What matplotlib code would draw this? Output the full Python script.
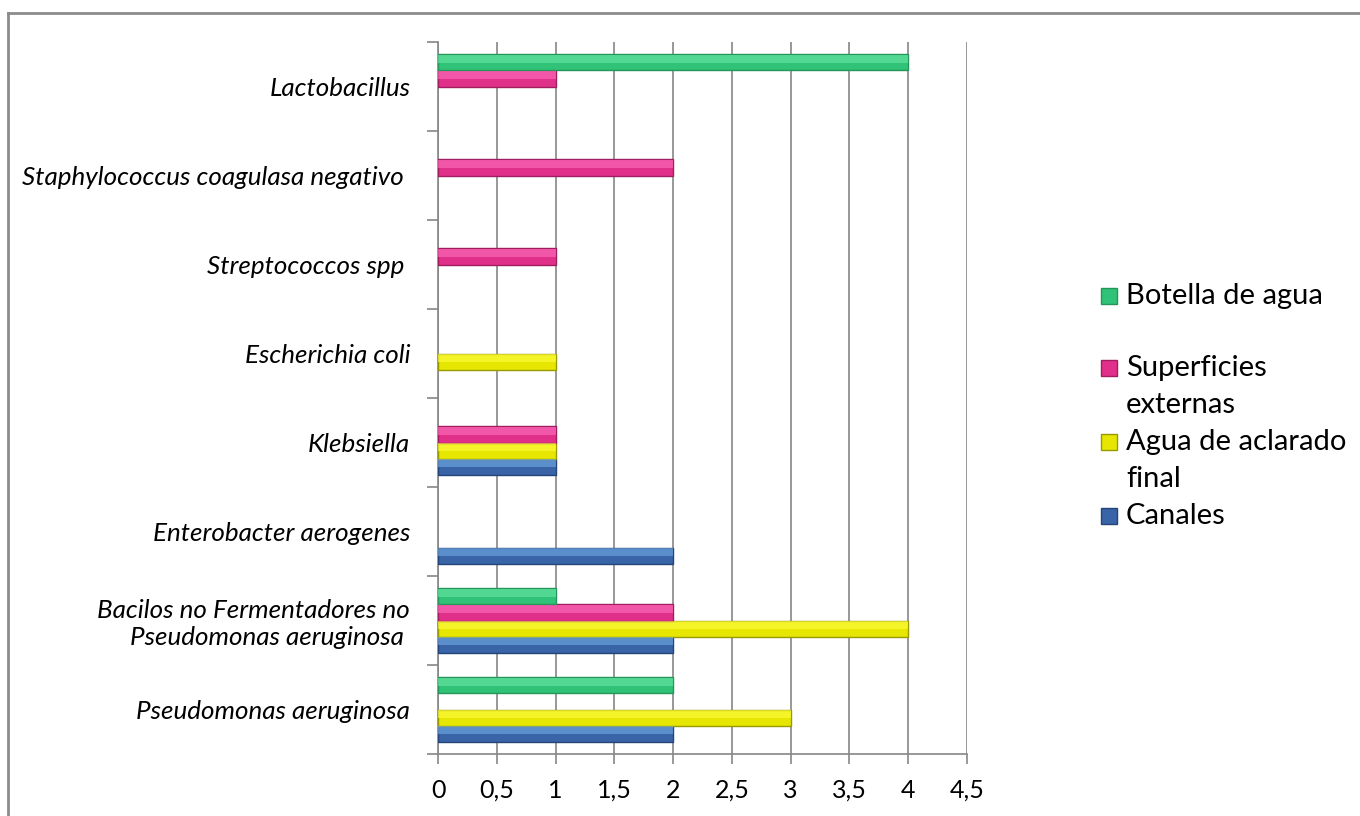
import matplotlib.pyplot as plt
import numpy as np
from matplotlib.patches import Rectangle
from matplotlib.lines import Line2D

plt.rcParams['font.family'] = ['Lato', 'DejaVu Sans']

# categorias (de abajo hacia arriba)
categorias = ['Pseudomonas aeruginosa',
              'Bacilos no Fermentadores no\nPseudomonas aeruginosa ',
              'Enterobacter aerogenes',
              'Klebsiella',
              'Escherichia coli',
              'Streptococcos spp ',
              'Staphylococcus coagulasa negativo ',
              'Lactobacillus']

series = ['Canales', 'Agua de aclarado\nfinal', 'Superficies\nexternas', 'Botella de agua']
canales = [2, 2, 2, 1, 0, 0, 0, 0]
agua_aclarado = [3, 4, 0, 1, 1, 0, 0, 0]
superficies = [0, 2, 0, 1, 0, 1, 2, 1]
botella = [2, 1, 0, 0, 0, 0, 0, 4]
valores = [canales, agua_aclarado, superficies, botella]
xticks = [0, 0.5, 1, 1.5, 2, 2.5, 3, 3.5, 4, 4.5]

# (relleno, brillo, borde)
colores = [('#3a64a8', '#72ace4', '#24457a'),
           ('#e6e600', '#ffff45', '#9a9a00'),
           ('#e0308a', '#ff70bd', '#a01e60'),
           ('#30c276', '#6ae8a8', '#26955a')]

W, H = 1360, 816
fig = plt.figure(figsize=(13.6, 8.16), dpi=100)
ax = fig.add_axes([438 / W, 1 - 754 / H, (967 - 438) / W, (754 - 42) / H])

y = np.arange(len(categorias))
h = 0.18
for i, vals in enumerate(valores):
    v = np.array(vals, dtype=float)
    v[v == 0] = np.nan
    off = (i - 1.5) * h
    face, hi, edge = colores[i]
    ax.barh(y + off, v, height=h, color=face, edgecolor=edge, linewidth=1.0, zorder=3)
    ax.barh(y + off + h * 0.2, v, height=h * 0.5, color=hi, linewidth=0, zorder=4, alpha=0.6)

ax.set_xlim(0, 4.5)
ax.set_ylim(-0.5, len(categorias) - 0.5)
ax.set_xticks(xticks)
ax.set_xticklabels([('%g' % v).replace('.', ',') for v in xticks], fontsize=18)
ax.set_yticks(y)
ax.set_yticklabels(categorias, fontsize=18.7, style='italic')
ax.set_yticks(np.arange(-0.5, len(categorias), 1), minor=True)
ax.tick_params(axis='y', which='major', length=0, pad=20)
ax.tick_params(axis='y', which='minor', length=8, color='#868686', width=1.2)
ax.tick_params(axis='x', length=7, color='#868686', width=1.2, pad=11)

ax.grid(axis='x', color='#868686', linewidth=1.2, zorder=0)
for s in ['top', 'right']:
    ax.spines[s].set_visible(False)
for s in ['left', 'bottom']:
    ax.spines[s].set_color('#868686')
    ax.spines[s].set_linewidth(1.2)

# leyenda manual
ley_y = [[516], [442, 479], [368, 405], [296]]
for i, nombre in enumerate(series):
    face, hi, edge = colores[i]
    y0 = ley_y[i][0]
    fig.patches.append(Rectangle((1101 / W, 1 - (y0 + 8) / H), 16 / W, 16 / H,
                                 transform=fig.transFigure, facecolor=face,
                                 edgecolor=edge, linewidth=1.0))
    for j, linea in enumerate(nombre.split('\n')):
        fig.text(1126 / W, 1 - ley_y[i][j] / H, linea, fontsize=21, va='center', ha='left')

# borde exterior
fig.add_artist(Line2D([8 / W, 1], [1 - 13 / H, 1 - 13 / H], transform=fig.transFigure,
                      color='#8c8c8c', linewidth=2))
fig.add_artist(Line2D([8 / W, 8 / W], [0, 1 - 13 / H], transform=fig.transFigure,
                      color='#8c8c8c', linewidth=2))

fig.savefig('out.png', dpi=100)
